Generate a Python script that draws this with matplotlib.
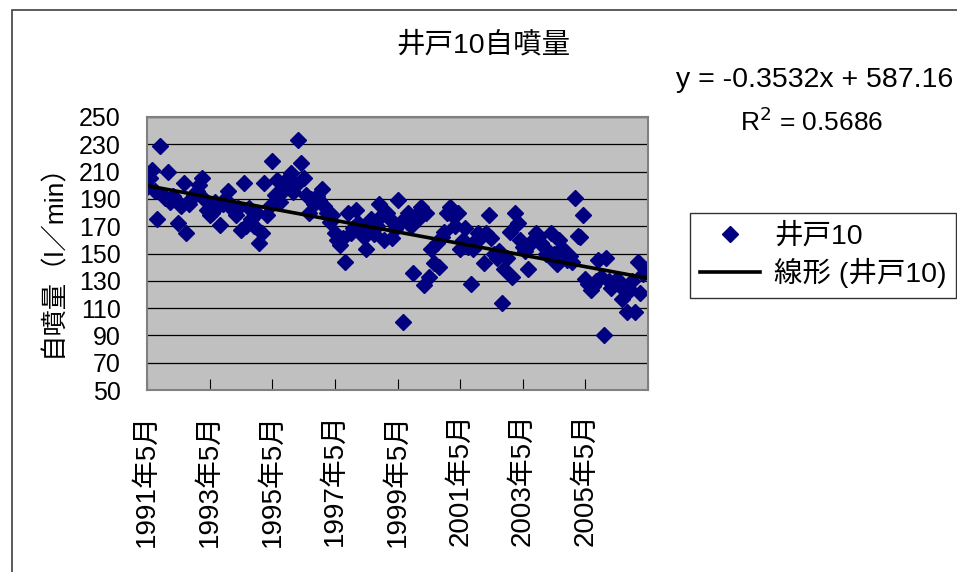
import matplotlib
matplotlib.use("Agg")
import matplotlib.pyplot as plt
from matplotlib.patches import Rectangle
from matplotlib.lines import Line2D

plt.rcParams['font.family'] = ['Liberation Sans', 'Noto Sans CJK JP', 'DejaVu Sans']

# monthly flow values, starting 1991-05
start_year = 1991
start_month = 5
flow = [199, 205, 211, 196, 175, 229, 193, 191, 210, 188, 192, 189,
        172, 185, 202, 165, 186, 190, 193, 196, 200, 205, 190, 182,
        178, 180, 188, 184, 171, 186, 190, 196, 185, 182, 178, 183,
        167, 202, 170, 183, 175, 170, 180, 158, 165, 202, 178, 185,
        218, 193, 204, 188, 196, 200, 205, 209, 195, 200, 233, 216,
        205, 193, 180, 190, 186, 192, 189, 197, 185, 180, 173, 178,
        165, 160, 156, 161, 144, 180, 165, 169, 182, 172, 165, 162,
        153, 168, 175, 164, 170, 186, 178, 160, 180, 175, 161, 168,
        189, 172, 100, 175, 180, 170, 136, 178, 175, 184, 127, 180,
        133, 153, 143, 158, 140, 162, 166, 180, 184, 178, 170, 180,
        153, 160, 169, 155, 128, 153, 160, 165, 162, 143, 165, 178,
        161, 150, 147, 152, 114, 139, 147, 166, 133, 180, 172, 160,
        155, 152, 139, 158, 160, 165, 162, 158, 155, 150, 148, 165,
        150, 142, 160, 154, 150, 145, 148, 144, 191, 163, 162, 178,
        131, 128, 123, 126, 130, 145, 133, 90, 147, 130, 125, 128,
        131, 127, 117, 125, 107, 123, 130, 107, 144, 121, 135, 139]

# trend line coefficients shown on the chart (x = months since 1900)
slope = -0.3532
intercept = 587.16
eq_text = "y = -0.3532x + 587.16"
r2_text = "R$^2$ = 0.5686"

tick_years = [1991, 1993, 1995, 1997, 1999, 2001, 2003, 2005]

x0 = (start_year - 1900) * 12 + start_month
xs = [x0 + i for i in range(len(flow))]

fig = plt.figure(figsize=(9.57, 5.72), dpi=100)
fig.add_artist(Rectangle((12 / 957, -0.05), 1.0, 1.05 - 10 / 572,
                         transform=fig.transFigure, fill=False,
                         edgecolor='#404040', lw=1.2))

ax = fig.add_axes([147 / 957, 1 - 390 / 572, 501 / 957, 273 / 572])
ax.set_facecolor('#C0C0C0')
for s in ax.spines.values():
    s.set_color('#808080')
    s.set_linewidth(1.5)

xlim = (x0, x0 + 192)
ax.set_xlim(*xlim)
ax.set_ylim(50, 250)
ax.set_yticks(range(50, 251, 20))
ax.yaxis.grid(True, color='black', lw=0.9)
ax.set_axisbelow(True)

xt = [(y - 1900) * 12 + 5 for y in tick_years] + [x0 + 192]
ax.set_xticks(xt)
ax.set_xticklabels([f"{y}年5月" for y in tick_years] + [""], rotation=90,
                   fontsize=20)
ax.tick_params(axis='x', direction='in', length=8, color='black', pad=17)
ax.tick_params(axis='y', length=0, labelsize=18, pad=19)
for lab in ax.get_xticklabels():
    lab.set_va('top')

ax.plot(xs, flow, linestyle='none', marker='D', ms=8, color='#000080',
        label='井戸10')
ax.plot(list(xlim), [slope * v + intercept for v in xlim], color='black',
        lw=2.6, label='線形 (井戸10)')

ax.set_ylabel('自噴量（l／min）', fontsize=19, labelpad=10)

fig.text(483 / 957, 1 - 45 / 572, '井戸10自噴量', ha='center', va='center',
         fontsize=20.5)
fig.text(815 / 957, 1 - 80 / 572, eq_text, ha='center', va='center',
         fontsize=20.5)
fig.text(812 / 957, 1 - 122 / 572, r2_text, ha='center', va='center',
         fontsize=19)

handles = [Line2D([], [], linestyle='none', marker='D', ms=8, color='#000080'),
           Line2D([], [], color='black', lw=2.6)]
leg = fig.legend(handles, ['井戸10', '線形 (井戸10)'], loc='upper left',
                 bbox_to_anchor=(690 / 957, 1 - 213 / 572), fontsize=20.5,
                 frameon=True, fancybox=False, handlelength=2.1,
                 handletextpad=0.5, borderaxespad=0, borderpad=0.35,
                 labelspacing=0.3)
leg.get_frame().set_edgecolor('black')
leg.get_frame().set_linewidth(1)

fig.savefig('out.png', dpi=100)
